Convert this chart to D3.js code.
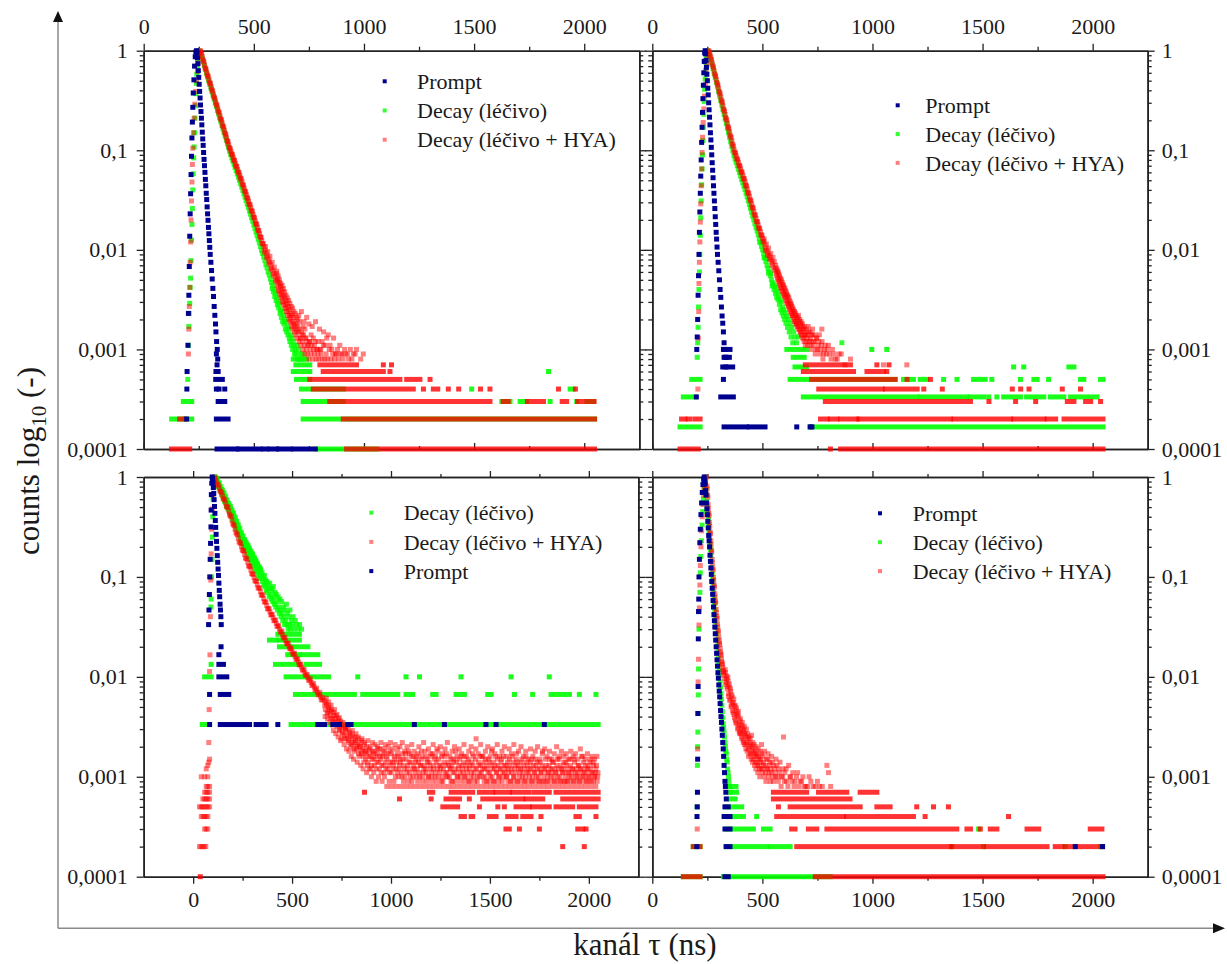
<!DOCTYPE html>
<html>
<head>
<meta charset="utf-8">
<script src="https://cdn.jsdelivr.net/npm/d3@7"></script>
<style>
html, body { margin: 0; padding: 0; background: #ffffff; }
svg { display: block; }
text { font-family: "Liberation Serif", "DejaVu Serif", serif; fill: #1a1a1a; }
</style>
</head>
<body>
<script>
// Fluorescence decay curves, four measurements. Counts per channel are stored raw;
// each series is normalised by its peak count. Points: [channel, count].
// Runs: [firstChannel, lastChannel, count] for channels that all share one count level.

const seriesLabels = ["Prompt", "Decay (léčivo)", "Decay (léčivo + HYA)"];
const xMajorTicks = [0, 500, 1000, 1500, 2000];
const xMinorTicks = [250, 750, 1250, 1750];
const yMajorTicks = [0.0001, 0.001, 0.01, 0.1, 1];
const yTickLabels = ["0,0001", "0,001", "0,01", "0,1", "1"];

// ---------- panel 1 (top left) ----------
const tlNorm = [10000, 10000, 10000]; // prompt, drug, drug + HYA
const tlPromptPts = [
[195,2],[196,4],[197,6],[201,11],[203,23],[205,35],[207,68],[209,137],[211,230],[213,366],[215,570],[217,870],[219,1330],[221,1920],[223,2700],[225,3760],[228,5100],[231,7000],[234,8700],[237,9700],[240,10000],
[242,9600],[244,8500],[246,7400],[248,6300],[250,5400],[252,4600],[254,3900],[256,3350],[258,2850],[260,2450],[262,2100],[264,1800],[266,1520],[268,1300],[270,1120],[272,950],[274,810],[276,700],[278,600],[280,510],[282,440],[284,370],[286,320],[288,270],[290,230],[292,198],[294,168],[296,145],[298,124],[300,106],[302,90],[305,75],[308,62],[311,51],[314,41],[317,34],[320,27],[323,22],[326,18],[328,15],[331,12],[334,10],[330,9],[336,8],[333,7]
];
const tlPromptRuns = [[328,338,6],[327,357,5],[330,330,4],[342,342,4],[368,368,4],[338,368,3],[330,383,2],[333,423,1],[430,529,1],[544,559,1],[574,604,1],[612,665,1],[680,779,1]];

const tlDrugPts = [
[200,5],[203,11],[205,17],[207,23],[209,29],[211,42],[213,52],[215,78],[217,125],[219,180],[221,260],[223,400],[225,580],[227,840],[229,1080],[231,1500],[233,2100],[235,2800],[237,3700],[239,4700],[241,5800],[243,7000],[245,8200],[247,9300],[250,10000],
[255,9600],[260,9000],[265,8400],[270,7700],[275,7100],[280,6500],[285,5950],[290,5450],[295,5000],[300,4600],[305,4220],[310,3870],[315,3560],[320,3260],[325,2990],[330,2750],[335,2520],[340,2310],[345,2120],[350,1950],[355,1790],[360,1640],[365,1510],[370,1380],[375,1270],[380,1160],[385,1070],[390,980],[395,905],[400,840],[405,780],[410,725],[415,672],[420,624],[425,579],[430,537],[435,498],[440,462],[445,427],[450,395],[455,366],[460,339],[465,313],[470,289],[475,267],[480,246],[485,228],[490,210],[495,194],[500,178],[505,164],[510,151],[515,139],[520,128],[525,118],[530,108],[535,99],[540,92],[545,85],[550,78],[555,71],[560,66],[565,60],[570,56],[575,51],
[580,47],[583,41],[586,44],[589,38],[592,40],[595,34],[598,37],[601,31],[604,33],[607,28],[610,30],[613,26],[616,29],[619,23],[622,25],[625,21],[628,24],[631,19],[634,22],[637,18],[640,20],[643,16],[646,19],[649,15],[652,17],[655,14],[658,16],[661,13],[664,12],[667,14],[670,11],[673,13],[676,10],[679,12],[682,11],[685,9],[688,10],[691,9],[695,11],[698,8],[702,10],[706,8],[710,9],[714,8],[720,9],[726,8]
];
const tlDrugRuns = [[127,173,2],[188,218,2],[180,218,3],[679,739,8],[691,754,7],[679,754,6],[1838,1838,6],[694,754,5],[716,906,4],[1489,1489,4],[1936,1950,4],[724,906,3],[1626,1663,3],[1709,1739,3],[1845,1845,3],[1966,1966,3],[2012,2042,3],[724,2047,2],[785,1058,1]];

const tlHyaPts = [
[203,9],[205,16],[207,27],[209,42],[211,75],[213,120],[215,200],[217,310],[219,480],[221,720],[223,1050],[226,1500],[229,2100],[232,2900],[236,3900],[240,5000],[244,6200],[247,7500],[250,8700],[253,9700],[256,10000],
[261,9550],[266,8710],[271,7940],[276,7240],[281,6610],[286,6080],[291,5600],[296,5150],[301,4730],[306,4360],[311,4000],[316,3680],[321,3380],[326,3110],[331,2860],[336,2630],[341,2420],[346,2220],[351,2040],[356,1880],[361,1730],[366,1590],[371,1460],[376,1340],[381,1230],[386,1135],[391,1047],[396,977],[401,912],[406,851],[411,794],[416,741],[421,692],[426,643],[431,600],[436,558],[441,521],[446,483],[451,448],[456,416],[461,385],[466,358],[471,332],[476,308],[481,286],[486,265],[491,246],[496,228],[501,212],[506,196],[511,182],[516,169],[521,156],[526,145],[531,134],[536,124],[541,115],[546,107],[551,100],[556,93],[561,87],[566,81],[571,76],[576,71],[581,66],[586,62],[591,58],[596,54],[601,50],
[258,9900],[263,9300],[268,8200],[273,7750],[278,6800],[283,6450],[288,5750],[293,5480],[298,4850],[303,4640],[308,4120],[313,3910],[318,3470],[323,3310],[328,2940],[333,2800],[338,2480],[343,2370],[348,2090],[353,2000],[358,1770],[363,1700],[368,1500],[373,1430],[378,1260],[383,1210],[388,1070],[393,1030],[398,925],[403,900],[408,805],[413,785],[418,700],[423,685],[428,610],[433,590],[438,530],[443,512],[448,455],[453,442],[458,393],[463,380],[468,338],[473,327],[478,290],[483,282],[488,250],[493,243],[498,215],[503,209],[508,185],[513,180],[518,158],[523,155],[528,136],[533,133],[538,116],[543,114],
[548,95],[553,108],[558,84],[563,96],[568,74],[573,86],[578,64],[583,75],[588,56],[593,67],[598,49],[603,58],
[606,44],[609,52],[612,39],[615,47],[618,36],[621,43],[624,33],[627,40],[630,30],[633,37],[636,28],[639,34],[642,26],[645,31],[648,24],[651,29],[654,22],[657,27],[660,20],[663,25],[666,19],[669,23],[672,17],[675,22],[678,16],[681,21],[684,15],[687,19],[690,14],[693,18],[696,13],[699,17],[702,15],[705,12],[708,16],[711,13],[714,11],[717,15],[720,12],[723,10],[726,14],[729,11],[732,9],[735,13],[738,10],[741,12],[744,9],[747,11],[750,8],[753,12],[756,10],[759,9],[763,11],[767,8],[771,10],[775,9],[779,12],[783,8],[787,10],[791,9],[795,8],[800,10],[805,9],[810,8],[816,11],[822,8],[828,9],[835,8],[842,10],[850,8],[858,9],[866,8],[875,9],[885,8],[895,9],[905,8],[917,9],[930,8],[945,8],[960,9],[985,8],[997,9],
[604,61],[607,48],[610,55],[613,42],[616,50],[619,38],[622,46],[625,35],[628,44],[631,33],[634,41],[637,30],[640,38],[643,28],[646,35],[649,26],[652,33],[655,24],[658,31],[661,22],[664,29],[667,21],[670,27],[673,19],[676,26],[679,18],[682,24],[685,17],[688,23],[691,16],[694,21],[697,15],[700,20],[704,22],[708,19],[712,13],[716,24],[720,14],[724,17],[728,19],[732,16],[736,13],[740,21],[745,11],[750,18],[755,12],[760,14],[765,17],[770,13],[775,11],[780,19],[786,10],[792,12],[798,16],[804,10],[810,12],[817,15],[824,11],[831,13],[838,14],[846,11],[854,10],[862,13],[871,9],[880,10],[890,11],[900,9],[912,10],[925,9],[938,10],[952,9],[966,10]
];
const tlHyaRuns = [[126,209,1],[163,186,2],[921,2047,1],[906,2047,2],[845,1572,3],[1632,1655,3],[1742,1815,3],[1900,1920,3],[1970,2045,3],[770,1224,4],[1270,1270,4],[1315,1335,4],[1383,1383,4],[1430,1430,4],[1529,1529,4],[1572,1572,4],[1883,1883,4],[1960,1960,4],[754,1163,5],[1194,1254,5],[1300,1300,5],[815,1088,6],[1118,1118,6],[800,966,7],[1088,1088,7],[1125,1125,7]];

// ---------- panel 2 (top right) ----------
const trNorm = [6000, 6000, 10000];
const trPromptPts = [
[200,2],[202,6],[204,8],[206,12],[208,21],[210,33],[212,54],[214,90],[216,144],[218,222],[220,330],[222,480],[224,720],[226,1020],[228,1440],[230,1980],[232,2700],[234,3600],[236,4680],[238,5700],[240,6000],
[242,5580],[244,4800],[246,4080],[248,3480],[250,3000],[252,2520],[254,2160],[256,1800],[258,1530],[260,1290],[262,1080],[264,900],[266,762],[268,642],[270,540],[272,450],[274,378],[276,318],[278,264],[280,222],[282,186],[284,156],[286,129],[288,108],[290,90],[292,77],[294,64],[296,54],[299,45],[302,37],[305,30],[308,24],[311,20],[314,16],[317,13],[320,11],[323,9],[326,7],[329,6],[332,5],[336,5],[334,4]
];
const trPromptRuns = [[323,353,6],[326,350,5],[320,365,4],[323,323,3],[311,368,2],[326,429,1],[441,512,1],[656,656,1],[717,717,1],[725,725,1]];

const trDrugPts = [
[204,5],[206,7],[208,10],[210,16],[212,24],[214,36],[216,54],[218,84],[220,126],[222,186],[224,270],[226,390],[228,540],[230,750],[232,1020],[234,1380],[236,1860],[238,2460],[240,3120],[242,3840],[244,4560],[246,5280],[248,5820],[251,6000],
[256,5700],[261,5350],[266,4870],[271,4400],[276,3960],[281,3560],[286,3210],[291,2890],[296,2600],[301,2340],[306,2100],[311,1890],[316,1700],[321,1530],[326,1380],[331,1240],[336,1115],[341,1000],[346,900],[351,810],[356,728],[361,655],[366,590],[371,530],[376,490],[381,453],[386,419],[391,387],[396,358],[401,331],[406,306],[411,283],[416,262],[421,242],[426,222],[431,204],[436,187],[441,171],[446,157],[451,143],[456,131],[461,120],[466,110],[471,101],[476,93],[481,85],[486,78],[491,71],[496,65],[501,60],[506,55],[511,50],[516,46],[521,42],[526,39],[531,36],[536,33],[541,30],[546,28],
[478,98],[488,72],[498,70],[508,50],[518,49],[528,35],[538,35],[544,26],
[550,27],[553,24],[556,26],[559,22],[562,25],[565,20],[568,23],[571,19],[574,21],[577,17],[580,19],[583,15],[586,18],[589,14],[592,16],[595,13],[598,15],[601,12],[604,14],[607,11],[610,13],[614,10],[618,12],[622,9],[626,11],[630,8],[634,10],[638,7],[642,9],[648,8],[655,7],[662,8],[861,7]
];
const trDrugRuns = [[126,217,1],[717,2047,1],[141,194,2],[179,217,3],
[686,1202,2],[1217,1429,2],[1445,1505,2],[1528,1528,2],[1565,1565,2],[1596,1672,2],[1700,1778,2],[1808,1869,2],[1900,2020,2],
[626,1103,3],[1141,1186,3],[1217,1247,3],[1323,1323,3],[1384,1384,3],[1459,1512,3],[1542,1542,3],[1672,1672,3],[1733,1748,3],[1800,1800,3],[1945,1960,3],[2036,2047,3],
[648,700,4],[1641,1641,4],[1687,1687,4],[1892,1915,4],[640,690,5],[611,700,6],[997,997,6],[1065,1065,6]];

const trHyaPts = [
[207,4],[209,13],[211,24],[212,46],[214,75],[216,120],[218,190],[220,290],[222,440],[224,650],[226,950],[228,1350],[231,1900],[234,2600],[237,3500],[241,4600],[245,6000],[249,7500],[252,9000],[255,10000],
[261,9400],[266,8500],[271,7700],[276,6950],[281,6280],[286,5680],[291,5130],[296,4640],[301,4190],[306,3790],[311,3430],[316,3100],[321,2800],[326,2530],[331,2290],[336,2070],[341,1870],[346,1690],[351,1530],[356,1380],[361,1250],[366,1130],[371,1020],[376,947],[381,879],[386,816],[391,757],[396,703],[401,652],[406,605],[411,562],[416,521],[421,484],[426,444],[431,408],[436,374],[441,344],[446,315],[451,289],[456,266],[461,244],[466,224],[471,207],[476,192],[481,178],[486,165],[491,152],[496,141],[501,131],[506,121],[511,112],[516,104],[521,98],[526,93],[531,88],[536,83],[541,78],[546,74],
[258,9850],[263,8850],[268,8150],[273,7200],[278,6720],[283,5850],[288,5520],[293,4780],[298,4520],[303,3910],[308,3680],[313,3200],[318,3010],[323,2600],[328,2460],[333,2130],[338,2010],[343,1740],[348,1640],[353,1420],[358,1340],[363,1160],[368,1100],[373,960],[378,930],[383,830],[388,800],[393,710],[398,690],[403,615],[408,595],[413,525],[418,512],[423,450],[428,435],[433,380],[438,367],[443,322],[448,309],[453,270],[458,262],[463,228],[468,221],[473,193],[478,190],[483,166],[488,162],[493,142],[498,139],[503,122],
[508,128],[513,99],[518,115],[523,88],[528,104],[533,80],[538,92],[543,70],[548,84],[551,66],[554,76],[557,62],
[560,70],[563,58],[566,64],[569,52],[572,60],[575,48],[578,55],[581,44],[584,51],[587,41],[590,47],[593,38],[596,44],[599,35],[602,41],[605,33],[608,38],[611,30],[614,35],[617,28],[620,33],[623,26],[626,30],[629,24],[632,28],[635,22],[638,26],[641,21],[644,24],[647,19],[650,23],[653,18],[656,21],[659,17],[662,20],[665,16],[668,19],[671,15],[674,18],[677,14],[680,17],[683,13],[686,16],[689,12],[692,15],[695,11],[698,14],[702,14],[706,11],[710,15],[714,12],[718,13],[722,10],[726,14],[730,11],[735,12],[740,9],[745,13],[750,10],[756,12],[762,9],[768,11],[770,16],[775,8],[782,10],[790,9],[800,11],[812,8],[825,9],[840,8],[858,9],[875,7],[900,8],[1050,7],[1156,7],
[562,66],[565,55],[568,61],[571,50],[574,57],[577,46],[580,52],[583,42],[586,49],[589,39],[592,45],[595,36],[598,42],[601,34],[604,39],[607,31],[610,36],[613,29],[616,34],[619,27],[622,31],[625,25],[628,29],[631,23],[634,27],[637,22],[640,25],[643,20],[646,24],[649,19],[652,22],[655,18],[658,21],[661,17],[664,22],[667,16],[670,20],[673,15],[676,19],[679,14],[682,18],[685,16],[688,13],[691,17],[694,14],[697,12],[700,16],[704,13],[708,17],[712,12],[716,15],[720,11],[724,14],[728,16],[733,12],[738,14],[743,10],[748,13],[753,11],[759,14],[765,10],[771,12],[778,9],[786,11],[795,10],[805,9],[818,10],[832,8],[848,9]
];
const trHyaRuns = [[126,209,1],[809,809,1],[855,2047,1],
[133,148,2],[163,171,2],[194,217,2],[764,794,2],[809,839,2],[855,930,2],[938,1354,2],[1370,1627,2],[1642,1779,2],[1794,1832,2],[1870,2047,2],
[786,1445,3],[1529,1529,3],[1650,1650,3],[1741,1741,3],[1885,1915,3],[1968,1991,3],[2036,2036,3],
[756,1044,4],[1059,1203,4],[1233,1233,4],[1317,1317,4],[1635,1635,4],[1673,1673,4],[1711,1711,4],[1862,1862,4],[1945,1945,4],
[724,1103,5],[1157,1157,5],[1263,1263,5],[686,914,6],[975,1050,6],[1065,1065,6],[695,900,7],[1020,1020,7],[1075,1075,7]];

// ---------- panel 3 (bottom left) ----------
const blNorm = [300, 300, 10000];
const blPromptPts = [
[83,1],[83,2],[78,10],[80,14],[82,20],[84,30],[86,45],[88,65],[90,95],[91,140],[92,200],[94,260],[96,300],
[98,290],[100,265],[102,235],[104,205],[106,178],[108,152],[110,130],[112,110],[114,94],[116,80],[118,68],[120,58],[122,49],[124,42],[126,36],[128,31],[130,26],[132,22],[134,19],[136,16],[138,14],[140,12],[142,10],[141,6],[130,5]
];
const blPromptRuns = [[130,153,4],[130,170,3],[137,180,2],[137,285,1],[318,369,1],[428,428,1],[630,664,1],[706,740,1],[782,798,1],[1118,1118,1],[1270,1270,1],[1480,1480,1],[1531,1531,1],[1775,1775,1]];

const blDrugPts = [
[90,15],[91,18],[93,30],[95,45],[97,75],[99,120],[101,180],[103,240],[105,285],[108,300],
[110,300],[114,280],[118,282],[122,258],[126,262],[130,240],[134,243],[138,222],[142,225],[146,205],[150,209],[154,188],[158,193],[162,173],[166,179],[170,160],[174,165],[178,148],[182,155],[186,139],[190,145],[194,128],[198,132],[202,117],[206,123],[210,107],[214,112],[218,97],[222,101],[226,89],[230,93],[234,81],[238,84],[242,74],[246,77],[250,67],[254,71],[258,63],[262,68],[266,60],[270,64],[274,56],[278,60],[282,52],[286,56],[290,49],[294,52],[298,45],[302,49],[306,42],[310,46],[314,39],[318,43],[322,36],[326,40],[330,34],[334,37],[338,31],[342,35],
[112,270],[116,295],[120,262],[124,281],[128,240],[132,262],[136,222],[140,240],[144,200],[148,222],[152,185],[156,207],[160,170],[164,190],[168,152],[172,175],[176,143],[180,163],[184,132],[188,152],[192,122],[196,140],[200,112],[204,130],[208,104],[212,118],[216,93],[220,108],[224,86],[228,100],[232,78],[236,91],[240,71],[244,83],[248,65],[252,77],[256,60],[260,71],[264,56],[268,66],[272,52],[276,62],[280,48],[284,58],[288,45],[292,54],[296,42],[300,51],[304,39],[308,47],[312,36],[316,44],[320,34],[324,41],[328,31],[332,38],[336,29],[340,36],
[345,29],[348,33],[351,27],[354,30],[357,25],[360,31],[363,24],[366,28],[369,22],[372,27],[375,21],[378,25],[381,23],[384,19],[387,26],[390,20],[393,23],[396,18],[399,22],[402,17],[405,24],[408,19],[411,16],[414,21],[417,15],[420,20],[423,17],[426,14],[429,19],[432,15],[435,13],[438,18],[441,14],[444,12],[447,17],[450,13],[453,11],[456,15],[459,12],[462,10],[465,14],[468,11],[471,16],[474,10],[477,13],[480,9],[483,12],[486,10],[489,14],[492,9],[496,11],[500,10],[505,12],[510,9],[516,11],[522,10],[530,9],[538,10],[548,9]
];
const blDrugRuns = [[46,83,1],[495,639,1],[664,790,1],[815,2047,1],[58,91,3],[91,91,4],
[517,815,2],[857,1034,2],[1076,1110,2],[1211,1228,2],[1329,1371,2],[1489,1506,2],[1624,1624,2],[1716,1716,2],[1809,1902,2],[1952,1952,2],[2036,2036,2],
[470,684,3],[832,832,3],[1076,1076,3],[1144,1144,3],[1354,1354,3],[1607,1607,3],[1800,1800,3],
[416,537,4],[571,639,4],[478,537,5],[554,630,5],[436,487,6],[504,580,6],[386,420,7],[436,537,7],[428,453,8],[470,537,8]];

const blHyaPts = [
[32,2],[40,2],[48,2],[56,2],[64,2],[58,3],[66,3],[74,3],[41,4],[50,4],[58,4],[66,4],[74,4],
[32,5],[40,5],[48,5],[57,5],[66,5],[75,5],[83,5],[49,6],[58,6],[66,6],[74,6],[83,6],[58,7],[66,7],[74,7],[83,7],[66,8],[74,8],[83,8],[41,10],[58,10],[74,10],[66,12],[74,13],[79,14],[83,15],
[79,22],[81,47],[83,113],[85,166],[87,400],[89,930],[91,1700],[94,3000],[97,4800],[100,6600],[103,8300],[106,9500],[108,10000],
[116,9180],[124,8410],[132,7730],[140,7090],[148,6500],[156,5970],[164,5470],[172,5020],[180,4560],[188,4100],[196,3700],[204,3330],[212,3000],[220,2700],[228,2440],[236,2200],[244,2010],[252,1840],[260,1680],[268,1530],[276,1400],[284,1280],[292,1170],[300,1070],[308,986],[316,910],[324,838],[332,773],[340,713],[348,658],[356,608],[364,560],[372,516],[380,479],[388,448],[396,419],[404,392],[412,366],[420,343],[428,321],[436,300],[444,281],[452,262],[460,245],[468,230],[476,215],[484,203],[492,191],[500,179],[508,169],[516,159],[524,150],[532,141],[540,132],[548,125],[556,117],[564,110],[572,104],[580,98],[588,93],[596,88],[604,83],[612,79],[620,74],[628,70],[636,67],[644,63],[652,59],
[112,9700],[120,8650],[128,8200],[136,7250],[144,6950],[152,6080],[160,5850],[168,5100],[176,4950],[184,4200],[192,4020],[200,3400],[208,3260],[216,2780],[224,2650],[232,2250],[240,2170],[248,1860],[256,1810],[264,1550],[272,1510],[280,1290],[288,1260],[296,1080],[304,1060],[312,915],[320,905],[328,780],[336,770],[344,660],[352,660],[360,565],[368,560],[376,480],[384,482],[392,418],[400,422],[408,365],[416,372],[424,320],[432,326],[440,282],[448,288],[456,246],[464,249],[472,215],[480,218],[488,192],[496,195],[504,169],[512,172],[520,150],[528,151],[536,132],[544,134],[552,117],[560,119],[568,104],[576,106],[584,92],[592,96],[600,82],[608,86],[616,74],[624,77],[632,66],[640,70],[648,59],[656,62],
[662,58],[668,47],[674,53],[680,44],[686,50],[692,41],[698,47],[704,38],[710,44],[716,35],[722,41],[728,32],[734,38],[740,30],[746,36],[752,28],[758,33],[764,26],[770,31],[776,24],[782,30],[788,22],[794,27],[800,21],[806,26],[812,19],[818,25],[824,20],[830,24],[836,17],[842,22],[848,18],[854,23],[860,16],[866,21],[872,15],[878,20],[884,14],[890,19],[896,16],[902,13],[908,18],[914,15],[920,21],[926,12],[932,17],[938,14],[944,19],[950,11],[956,16],[962,13],[968,18],[974,12],[980,15],[986,20],[992,11],[998,14],
[1004,17],[1010,12],[1016,16],[1022,10],[1028,14],[1034,19],[1040,12],[1046,15],[1052,11],[1058,17],[1064,13],[1070,10],[1076,15],[1082,12],[1088,18],[1094,11],[1100,14],[1106,9],[1112,16],[1118,12],[1124,14],[1130,10],[1136,17],[1142,11],[1148,13],[1154,15],[1160,9],[1166,12],[1172,18],[1178,11],[1184,14],[1190,10],[1196,13],[1202,16],[1208,9],[1214,12],[1220,15],[1226,11],[1232,19],[1238,10],[1244,13],[1250,12],[1256,16],[1262,9],[1268,14],[1274,11],[1280,17],[1286,10],[1292,13],[1298,12],
[1304,15],[1310,9],[1316,14],[1322,11],[1328,18],[1334,10],[1340,12],[1346,15],[1352,9],[1358,13],[1364,11],[1370,16],[1376,10],[1382,12],[1388,14],[1394,9],[1400,13],[1406,11],[1412,17],[1418,10],[1424,12],[1430,24],[1436,9],[1442,14],[1448,11],[1454,13],[1460,16],[1466,10],[1472,12],[1478,15],[1484,9],[1490,11],[1496,14],
[1502,10],[1508,18],[1514,12],[1520,9],[1526,13],[1532,11],[1538,15],[1544,10],[1550,12],[1556,14],[1562,9],[1568,16],[1574,11],[1580,13],[1586,10],[1592,12],[1598,15],[1604,9],[1610,11],[1616,14],[1622,10],[1628,13],[1634,17],[1640,9],[1646,12],[1652,11],[1658,14],[1664,10],[1670,13],[1676,9],[1682,16],[1688,11],[1694,12],
[1700,10],[1706,14],[1712,9],[1718,13],[1724,11],[1730,15],[1736,10],[1742,12],[1748,9],[1754,14],[1760,11],[1766,18],[1772,10],[1778,12],[1784,13],[1790,9],[1796,11],[1802,15],[1808,10],[1814,12],[1820,14],[1826,9],[1832,11],[1838,13],[1844,10],[1850,16],[1856,9],[1862,12],[1868,11],[1874,14],[1880,10],[1886,13],[1892,9],[1898,11],
[1904,15],[1910,10],[1916,12],[1922,9],[1928,14],[1934,11],[1940,10],[1946,13],[1952,9],[1958,12],[1964,16],[1970,10],[1976,11],[1982,13],[1988,9],[1994,12],[2000,10],[2006,14],[2012,9],[2018,11],[2024,13],[2030,10],[2036,12],[2042,9],[2046,11],
[665,52],[671,55],[677,43],[683,49],[689,46],[695,39],[701,45],[707,36],[713,41],[719,38],[725,33],[731,36],[737,29],[743,34],[749,31],[755,27],[761,32],[767,24],[773,29],[779,26],[785,23],[791,28],[797,20],[803,24],[809,22],[815,18],[821,23],[827,19],[833,21],[839,16],[845,20],[851,17],[857,19],[863,14],[869,18],[875,17],[881,13],[887,16],[893,18],[899,12],[905,15],[911,17],[917,13],[923,16],[929,14],[935,19],[941,12],[947,15],[953,13],[959,17],[965,11],[971,14],[977,16],[983,12],[989,13],[995,18],
[1001,11],[1007,14],[1013,13],[1019,15],[1025,12],[1031,11],[1037,16],[1043,13],[1049,14],[1055,10],[1061,15],[1067,12],[1073,17],[1079,11],[1085,13],[1091,14],[1097,10],[1103,16],[1109,12],[1115,13],[1121,11],[1127,15],[1133,12],[1139,14],[1145,10],[1151,13],[1157,16],[1163,11],[1169,13],[1175,12],[1181,15],[1187,10],[1193,14],[1199,12],
[1205,11],[1211,17],[1217,13],[1223,10],[1229,14],[1235,12],[1241,15],[1247,11],[1253,13],[1259,10],[1265,12],[1271,16],[1277,13],[1283,11],[1289,14],[1295,10],[1301,12],[1307,13],[1313,11],[1319,15],[1325,12],[1331,14],[1337,10],[1343,13],[1349,11],[1355,16],[1361,12],[1367,14],[1373,10],[1379,13],[1385,11],[1391,15],[1397,12],
[1403,10],[1409,14],[1415,13],[1421,11],[1427,15],[1433,12],[1439,10],[1445,13],[1451,16],[1457,11],[1463,12],[1469,14],[1475,10],[1481,13],[1487,12],[1493,15],[1499,11],[1505,13],[1511,10],[1517,14],[1523,12],[1529,16],[1535,11],[1541,13],[1547,10],[1553,12],[1559,15],[1565,11],[1571,13],[1577,12],[1583,10],[1589,14],[1595,11],
[1601,13],[1607,12],[1613,16],[1619,10],[1625,12],[1631,11],[1637,14],[1643,13],[1649,10],[1655,12],[1661,15],[1667,11],[1673,12],[1679,10],[1685,14],[1691,13],[1697,11],[1703,12],[1709,15],[1715,10],[1721,12],[1727,11],[1733,13],[1739,14],[1745,10],[1751,12],[1757,11],[1763,13],[1769,9],[1775,12],[1781,15],[1787,11],[1793,10],[1799,13],
[1805,12],[1811,11],[1817,14],[1823,10],[1829,12],[1835,11],[1841,15],[1847,12],[1853,10],[1859,13],[1865,11],[1871,12],[1877,9],[1883,14],[1889,11],[1895,12],[1901,10],[1907,13],[1913,11],[1919,12],[1925,15],[1931,10],[1937,12],[1943,11],[1949,13],[1955,10],[1961,12],[1967,11],[1973,14],[1979,10],[1985,12],[1991,11],[1997,13],
[2003,10],[2009,12],[2015,11],[2021,14],[2027,10],[2033,11],[2039,13],[2045,10],
[667,40],[673,61],[679,38],[685,56],[691,35],[697,52],[703,33],[709,29],[715,47],[721,27],[727,42],[733,25],[739,39],[745,23],[751,24],[757,35],[763,21],[769,30],[775,19],[781,33],[787,18],[793,25],[799,16],[805,29],[811,15],[817,22],[823,27],[829,14],[835,25],[841,20],[847,13],[853,24],[859,12],[865,22],[871,18],[877,11],[883,23],[889,12],[895,20],[901,10],[907,22],[913,11],[919,18],[925,9],[931,20],[937,10],[943,16],[949,22],[955,9],[961,19],[967,10],[973,21],[979,8],[985,17],[991,9],[997,22],
[1003,8],[1009,19],[1015,9],[1021,21],[1027,8],[1033,17],[1039,10],[1045,20],[1051,8],[1057,22],[1063,9],[1069,18],[1075,8],[1081,20],[1087,9],[1093,17],[1099,8],[1105,21],[1111,10],[1117,18],[1123,8],[1129,16],[1135,9],[1141,20],[1147,8],[1153,18],[1159,10],[1165,22],[1171,8],[1177,16],[1183,9],[1189,19],[1195,8],[1201,17],[1207,10],[1213,21],[1219,8],[1225,16],[1231,9],[1237,18],[1243,8],[1249,20],[1255,9],[1261,17],[1267,8],[1273,19],[1279,10],[1285,22],[1291,8],[1297,16],
[1303,9],[1309,18],[1315,8],[1321,20],[1327,9],[1333,16],[1339,8],[1345,19],[1351,10],[1357,17],[1363,8],[1369,21],[1375,9],[1381,16],[1387,8],[1393,18],[1399,9],[1405,20],[1411,8],[1417,16],[1423,9],[1429,19],[1435,8],[1441,17],[1447,10],[1453,21],[1459,8],[1465,16],[1471,9],[1477,18],[1483,8],[1489,20],[1495,9],
[1501,16],[1507,8],[1513,19],[1519,9],[1525,17],[1531,8],[1537,21],[1543,9],[1549,16],[1555,8],[1561,18],[1567,10],[1573,20],[1579,8],[1585,16],[1591,9],[1597,19],[1603,8],[1609,17],[1615,9],[1621,21],[1627,8],[1633,15],[1639,9],[1645,18],[1651,8],[1657,20],[1663,9],[1669,16],[1675,8],[1681,18],[1687,9],[1693,15],[1699,8],
[1705,19],[1711,9],[1717,16],[1723,8],[1729,18],[1735,9],[1741,20],[1747,8],[1753,15],[1759,9],[1765,17],[1771,8],[1777,19],[1783,9],[1789,16],[1795,8],[1801,18],[1807,9],[1813,15],[1819,8],[1825,17],[1831,9],[1837,20],[1843,8],[1849,15],[1855,9],[1861,18],[1867,8],[1873,16],[1879,9],[1885,17],[1891,8],[1897,15],
[1903,9],[1909,18],[1915,8],[1921,16],[1927,9],[1933,17],[1939,8],[1945,15],[1951,9],[1957,19],[1963,8],[1969,16],[1975,9],[1981,15],[1987,8],[1993,17],[1999,9],[2005,15],[2011,8],[2017,16],[2023,9],[2029,15],[2035,8],[2041,16]
];
const blHyaRuns = [[36,36,1],
[866,866,7],[1194,1211,7],[1304,1413,7],[1447,1514,7],[1531,1598,7],[1615,1699,7],[1725,1800,7],[1834,2047,7],
[1043,1043,6],[1203,1203,6],[1278,1346,6],[1396,1396,6],[1464,1666,6],[1683,1767,6],[1868,2047,6],
[1262,1295,5],[1320,1337,5],[1447,1447,5],[1540,1540,5],[1573,1573,5],[1632,1699,5],[1716,1800,5],[1834,1918,5],[1952,2036,5],
[1354,1371,4],[1405,1413,4],[1497,1531,4],[1590,1632,4],[1666,1708,4],[1758,1758,4],[1935,1952,4],[2036,2036,4],
[1581,1598,3],[1649,1649,3],[1750,1750,3],[1944,1969,3],[1986,1986,3],[1868,1868,2],[1977,1977,2]];

// ---------- panel 4 (bottom right) ----------
const brNorm = [10000, 10000, 10000];
const brPromptPts = [
[202,2],[203,4],[204,5],[205,7],[206,15],[207,43],[208,80],[209,240],[210,450],[211,600],[212,1000],[214,1500],[216,2200],[218,3000],[221,4200],[224,5500],[227,7000],[230,8400],[233,9500],[236,10000],
[238,9100],[240,8500],[242,7300],[244,6600],[246,5500],[248,4800],[250,4200],[252,3600],[254,3100],[256,2600],[258,2300],[260,2000],[262,1650],[264,1430],[266,1230],[268,1060],[270,900],[272,770],[274,670],[276,580],[278,500],[280,420],[282,365],[284,315],[286,270],[288,233],[290,200],[292,172],[294,148],[296,128],[298,110],[300,97],[302,83],[304,72],[306,63],[308,54],[310,46],[312,40],[314,35],[316,30],[318,26],[320,22],[322,19],[324,16],[326,13],[328,11],[330,9],[332,8],[334,7],[336,6]
];
const brPromptRuns = [[330,345,5],[326,353,4],[330,353,3],[335,353,2],[1921,1921,2],[2045,2045,2],[330,345,1]];

const brDrugPts = [
[204,5],[205,13],[206,20],[207,28],[208,43],[209,66],[210,120],[212,300],[214,450],[216,700],[218,1100],[220,1600],[223,2300],[226,3300],[229,4500],[232,6000],[235,7600],[238,9000],[241,10000],
[242,8800],[244,7600],[246,6600],[248,5700],[250,5000],[252,4300],[254,3800],[256,3300],[258,2850],[260,2500],[262,2150],[264,1880],[266,1630],[268,1420],[270,1240],[272,1080],[274,940],[276,820],[278,710],[280,620],[282,540],[284,470],[286,410],[288,355],[290,310],[292,270],[294,235],[296,205],[298,178],[300,155],[302,135],[304,118],[306,103],[308,90],[310,79],[312,68],[314,60],[316,52],[318,45],[320,39],[322,34],[324,31],[326,28],[328,25],[330,22],[332,20],[334,18],[336,17],[338,15],[340,14],[342,12],[344,11],[346,10],[348,9],[350,8],[352,8],[354,7]
];
const brDrugRuns = [[141,217,1],[186,217,2],[353,380,8],[358,383,7],[353,376,6],[335,406,5],[338,414,4],[474,474,4],[338,459,3],[505,535,3],[1482,1482,3],[338,520,2],[535,626,2],[1361,1361,2],[1504,1504,2],[1876,1876,2],[2035,2035,2],[323,808,1]];

const brHyaPts = [
[204,3],[206,19],[208,89],[210,150],[212,330],[214,490],[216,830],[218,1300],[221,2000],[224,2900],[227,4000],[230,5300],[233,6600],[236,7800],[239,8900],[242,9700],[245,10000],
[248,8100],[251,6600],[254,5300],[257,4300],[260,3500],[263,2800],[266,2300],[269,1850],[272,1500],[275,1220],[278,990],[281,820],[284,680],[287,570],[290,475],[293,400],[296,340],[299,290],[302,250],[305,218],[308,192],[311,170],[314,152],[317,137],[320,124],[323,113],[326,104],
[249,7600],[252,6300],[255,4800],[258,4100],[261,3200],[264,2700],[267,2100],[270,1780],[273,1380],[276,1170],[279,920],[282,790],[285,630],[288,550],[291,440],[294,385],[297,315],[300,280],[303,232],[306,210],[309,178],[312,165],[315,141],[318,133],[321,116],[324,110],
[329,96],[332,110],[335,88],[338,102],[341,80],[344,90],[347,68],[350,79],[353,60],[356,71],[359,52],[362,63],[365,46],[368,55],[371,42],[374,51],[377,37],[380,46],[383,34],[386,43],[389,31],[392,40],[395,28],[398,36],[401,27],[404,33],[407,24],[410,31],[413,22],[416,29],[419,21],[422,27],[425,19],[428,25],[431,18],[434,24],[437,16],[440,22],[443,17],[446,21],[449,15],[452,20],[455,14],[458,19],[461,16],[464,13],[467,18],[470,12],[473,17],[476,14],[479,11],[482,16],[485,13],[488,10],[491,15],[494,12],[497,17],[500,11],[504,14],[508,10],[512,13],[516,9],[520,12],[524,15],[528,10],[532,13],[536,9],[540,11],[545,14],[550,9],[555,12],[560,10],[566,13],[572,9],[578,11],[585,8],[592,10],[596,25],[600,9],[608,12],[616,8],[625,10],[634,9],[644,8],[655,10],[666,8],[678,9],[690,8],[705,8],[720,9],[740,8],[760,8],[793,13],[800,11],[810,8],
[331,118],[334,84],[337,95],[340,76],[343,99],[346,64],[349,85],[352,58],[355,76],[358,50],[361,66],[364,55],[367,44],[370,60],[373,39],[376,52],[379,35],[382,49],[385,41],[388,30],[391,45],[394,33],[397,27],[400,38],[403,30],[406,25],[409,35],[412,28],[415,23],[418,32],[421,26],[424,21],[427,30],[430,22],[433,27],[436,19],[439,25],[442,20],[445,24],[448,17],[451,26],[454,18],[457,22],[460,15],[463,21],[466,17],[469,14],[472,20],[475,16],[478,13],[481,19],[484,15],[487,12],[490,18],[493,14],[496,21],[499,12],[502,16],[506,13],[510,18],[514,11],[518,15],[522,12],[526,17],[530,11],[534,14],[538,12],[542,16],[547,10],[552,13],[557,11],[562,15],[568,10],[574,12],[580,14],[587,10],[594,12],[602,11],[610,9],[619,13],[628,10],[638,11],[648,9],[660,11],[672,9],[684,10],[697,8],[712,10],[730,8],[750,9],[772,8]
];
const brHyaRuns = [[141,217,1],[740,2047,1],[186,217,2],[656,1353,2],[1361,1504,2],[1520,1793,2],[1830,1860,2],[1876,2045,2],
[633,648,3],[709,747,3],[793,1383,3],[1429,1445,3],[1490,1490,3],[1535,1565,3],[1702,1755,3],[1989,2042,3],
[565,868,4],[883,1186,4],[1239,1239,4],[1618,1618,4],[573,573,5],[626,944,5],[1020,1080,5],[1201,1201,5],[1277,1277,5],[1345,1345,5],
[550,898,6],[550,701,7],[755,883,7],[944,1020,7]];

// ---------- drawing ----------
const W = 1227, H = 964;
const svg = d3.select("body").append("svg").attr("width", W).attr("height", H);

const COLORS = ["#000090", "#00ff00", "#ff0000"];
const PT_OPACITY = [1, 0.8, 0.5];
const RUN_OPACITY = [1, 0.9, 0.8];
const M = 5; // marker side in px

const panels = [
  { x0: 143.7, x1: 639.3, y0: 50.7, y1: 449, xDom: [0, 2250], xSide: "top", ySide: "left",
    legend: { mx: 384.7, tx: 417, y: 81.3, dy: 29.2, order: [0, 1, 2] },
    pts: [tlPromptPts, tlDrugPts, tlHyaPts], runs: [tlPromptRuns, tlDrugRuns, tlHyaRuns], norm: tlNorm },
  { x0: 652.3, x1: 1147.7, y0: 50.7, y1: 449, xDom: [0, 2250], xSide: "top", ySide: "right",
    legend: { mx: 897.7, tx: 925.3, y: 105.3, dy: 28.8, order: [0, 1, 2] },
    pts: [trPromptPts, trDrugPts, trHyaPts], runs: [trPromptRuns, trDrugRuns, trHyaRuns], norm: trNorm },
  { x0: 143.7, x1: 638.3, y0: 477, y1: 876.7, xDom: [-250, 2250], xSide: "bottom", ySide: "left",
    legend: { mx: 371.3, tx: 403.7, y: 512.7, dy: 29.2, order: [1, 2, 0] },
    pts: [blPromptPts, blDrugPts, blHyaPts], runs: [blPromptRuns, blDrugRuns, blHyaRuns], norm: blNorm },
  { x0: 652.3, x1: 1147.7, y0: 477, y1: 876.7, xDom: [0, 2250], xSide: "bottom", ySide: "right",
    legend: { mx: 880, tx: 912.7, y: 513.3, dy: 28.9, order: [0, 1, 2] },
    pts: [brPromptPts, brDrugPts, brHyaPts], runs: [brPromptRuns, brDrugRuns, brHyaRuns], norm: brNorm }
];

const yMinorTicks = [];
[0.0001, 0.001, 0.01, 0.1].forEach(dec => { for (let m = 2; m <= 9; m++) yMinorTicks.push(m * dec); });
const yLabel = v => yTickLabels[yMajorTicks.indexOf(v)];

function styleAxis(g) {
  g.attr("font-family", null).attr("font-size", null);
  g.selectAll("path.domain").attr("stroke", "#222").attr("stroke-width", 1.6);
  g.selectAll(".tick line").attr("stroke", "#222").attr("stroke-width", 1.3);
  g.selectAll(".tick text").attr("font-size", 22).attr("fill", "#1a1a1a");
}

panels.forEach(p => {
  const x = d3.scaleLinear().domain(p.xDom).range([p.x0, p.x1]);
  const y = d3.scaleLog().domain([0.0001, 1]).range([p.y1, p.y0]);
  const g = svg.append("g");

  // horizontal sides: labelled side has outward ticks, opposite side inward ticks
  const top = p.xSide === "top";
  const xLabY = top ? p.y0 : p.y1;
  const xOppY = top ? p.y1 : p.y0;
  const xAxisFn = top ? d3.axisTop : d3.axisBottom;
  g.append("g").attr("transform", `translate(0,${xLabY})`)
    .call(xAxisFn(x).tickValues(xMajorTicks).tickSizeInner(7).tickSizeOuter(0).tickPadding(top ? 10 : 8).tickFormat(d3.format("d")))
    .call(styleAxis);
  g.append("g").attr("transform", `translate(0,${xLabY})`)
    .call(xAxisFn(x).tickValues(xMinorTicks).tickSizeInner(4).tickSizeOuter(0).tickFormat(""))
    .call(styleAxis);
  g.append("g").attr("transform", `translate(0,${xOppY})`)
    .call(xAxisFn(x).tickValues(xMajorTicks).tickSizeInner(top ? 6 : -6).tickSizeOuter(0).tickFormat(""))
    .call(styleAxis);
  g.append("g").attr("transform", `translate(0,${xOppY})`)
    .call(xAxisFn(x).tickValues(xMinorTicks).tickSizeInner(top ? 3 : -3).tickSizeOuter(0).tickFormat(""))
    .call(styleAxis);

  // vertical sides
  const left = p.ySide === "left";
  const yLabX = left ? p.x0 : p.x1;
  const yOppX = left ? p.x1 : p.x0;
  const yAxisFn = left ? d3.axisLeft : d3.axisRight;
  g.append("g").attr("transform", `translate(${yLabX},0)`)
    .call(yAxisFn(y).tickValues(yMajorTicks).tickSizeInner(7).tickSizeOuter(0).tickPadding(left ? 9 : 7).tickFormat(yLabel))
    .call(styleAxis);
  g.append("g").attr("transform", `translate(${yLabX},0)`)
    .call(yAxisFn(y).tickValues(yMinorTicks).tickSizeInner(4).tickSizeOuter(0).tickFormat(""))
    .call(styleAxis);
  g.append("g").attr("transform", `translate(${yOppX},0)`)
    .call(yAxisFn(y).tickValues(yMajorTicks).tickSizeInner(-7).tickSizeOuter(0).tickFormat(""))
    .call(styleAxis);
  g.append("g").attr("transform", `translate(${yOppX},0)`)
    .call(yAxisFn(y).tickValues(yMinorTicks).tickSizeInner(-4).tickSizeOuter(0).tickFormat(""))
    .call(styleAxis);

  // markers: drug, drug + HYA, then prompt on top
  [1, 2, 0].forEach(k => {
    const norm = p.norm[k];
    g.append("g").selectAll("rect").data(p.runs[k]).join("rect")
      .attr("x", d => x(d[0]) - M / 2)
      .attr("width", d => x(d[1]) - x(d[0]) + M)
      .attr("y", d => y(d[2] / norm) - M / 2)
      .attr("height", M)
      .attr("fill", COLORS[k]).attr("fill-opacity", RUN_OPACITY[k]);
    g.append("g").selectAll("rect").data(p.pts[k]).join("rect")
      .attr("x", d => x(d[0]) - M / 2)
      .attr("y", d => y(d[1] / norm) - M / 2)
      .attr("width", M).attr("height", M)
      .attr("fill", COLORS[k]).attr("fill-opacity", PT_OPACITY[k]);
  });

  // legend
  const lg = g.append("g");
  p.legend.order.forEach((k, i) => {
    const ly = p.legend.y + i * p.legend.dy;
    lg.append("rect").attr("x", p.legend.mx - 2).attr("y", ly - 2).attr("width", 4).attr("height", 4)
      .attr("fill", COLORS[k]).attr("fill-opacity", PT_OPACITY[k]);
    lg.append("text").attr("x", p.legend.tx).attr("y", ly).attr("dy", "0.35em")
      .attr("font-size", 22).text(seriesLabels[k]);
  });
});

// outer frame with arrows
svg.append("line").attr("x1", 58).attr("y1", 20).attr("x2", 58).attr("y2", 928.3)
  .attr("stroke", "#8a8a8a").attr("stroke-width", 1.5);
svg.append("line").attr("x1", 58).attr("y1", 928.3).attr("x2", 1215).attr("y2", 928.3)
  .attr("stroke", "#8a8a8a").attr("stroke-width", 1.5);
svg.append("path").attr("d", "M58,11 L53,22 L63,22 Z").attr("fill", "#111");
svg.append("path").attr("d", "M1225,928.3 L1213,923.3 L1213,933.3 Z").attr("fill", "#111");

// axis titles
const yt = svg.append("text").attr("transform", "translate(39,461) rotate(-90)")
  .attr("text-anchor", "middle").attr("font-size", 31);
yt.append("tspan").text("counts log");
yt.append("tspan").attr("font-size", 21).attr("dy", 7).text("10");
yt.append("tspan").attr("dy", -7).text(" (-)");
svg.append("text").attr("x", 645).attr("y", 955).attr("text-anchor", "middle")
  .attr("font-size", 31).text("kanál τ (ns)");
</script>
</body>
</html>
